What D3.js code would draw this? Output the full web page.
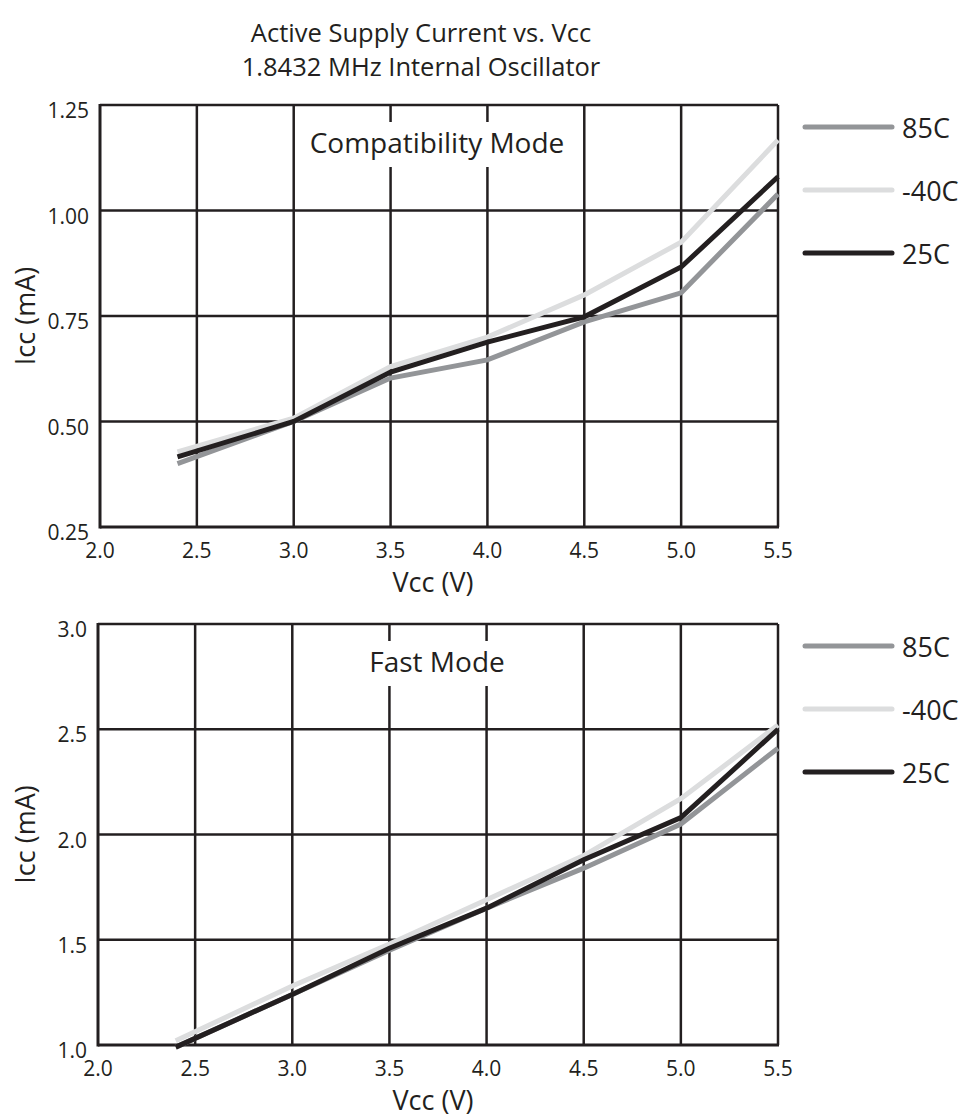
<!DOCTYPE html>
<html>
<head>
<meta charset="utf-8">
<script src="https://cdn.jsdelivr.net/npm/d3@7"></script>
<style>
  html, body { margin: 0; padding: 0; background: #fff; }
  svg text { font-family: "Open Sans", "Noto Sans", sans-serif; fill: #231f20; }
</style>
</head>
<body>
<svg id="chart" width="964" height="1117"></svg>
<script>
// ---- Data ----
const vcc = [2.4, 3.0, 3.5, 4.0, 4.5, 5.0, 5.5];
const seriesNames = ["85C", "-40C", "25C"];
const seriesColors = ["#939598", "#dcddde", "#231f20"];

// Compatibility Mode (mA)
const compat85 = [0.40, 0.50, 0.603, 0.646, 0.736, 0.805, 1.039];
const compatM40 = [0.428, 0.508, 0.63, 0.70, 0.80, 0.925, 1.167];
const compat25 = [0.416, 0.50, 0.617, 0.688, 0.748, 0.866, 1.08];

// Fast Mode (mA)
const fast85 = [0.99, 1.24, 1.45, 1.65, 1.84, 2.05, 2.41];
const fastM40 = [1.02, 1.28, 1.48, 1.69, 1.90, 2.17, 2.52];
const fast25 = [0.99, 1.24, 1.46, 1.65, 1.88, 2.08, 2.50];

const xTicks = [2.0, 2.5, 3.0, 3.5, 4.0, 4.5, 5.0, 5.5];
const compatYTicks = [0.25, 0.50, 0.75, 1.00, 1.25];
const fastYTicks = [1.0, 1.5, 2.0, 2.5, 3.0];

const titleLines = ["Active Supply Current vs. Vcc", "1.8432 MHz Internal Oscillator"];

// ---- Drawing ----
const svg = d3.select("#chart");
const ink = "#231f20";

svg.append("g").selectAll("text").data(titleLines).join("text")
  .attr("x", 421).attr("y", (d, i) => 42 + i * 34)
  .attr("text-anchor", "middle").attr("font-size", 25.5).text(d => d);

function panel(cfg) {
  const x = d3.scaleLinear().domain([2.0, 5.5]).range([cfg.left, 778]);
  const y = d3.scaleLinear().domain(cfg.yDomain).range([cfg.bottom, cfg.top]);
  const g = svg.append("g");

  // vertical grid
  g.append("g").selectAll("line").data(xTicks.slice(1)).join("line")
    .attr("x1", d => x(d)).attr("x2", d => x(d))
    .attr("y1", cfg.top).attr("y2", cfg.bottom)
    .attr("stroke", ink).attr("stroke-width", 2.5);
  // horizontal grid
  g.append("g").selectAll("line").data(cfg.yTicks.slice(1)).join("line")
    .attr("x1", cfg.left).attr("x2", 778)
    .attr("y1", d => y(d)).attr("y2", d => y(d))
    .attr("stroke", ink).attr("stroke-width", 2.5);

  // annotation label with white backing
  const lab = g.append("text").attr("x", 437).attr("y", cfg.top + 48)
    .attr("text-anchor", "middle").attr("font-size", 28).text(cfg.label);
  const bb = lab.node().getBBox();
  g.insert("rect", "text").attr("x", bb.x - 2).attr("y", cfg.top + 17)
    .attr("width", bb.width + 4).attr("height", 45).attr("fill", "#fff");

  // axes (left + bottom thicker)
  g.append("line").attr("x1", cfg.left).attr("x2", cfg.left)
    .attr("y1", cfg.top - 1).attr("y2", cfg.bottom + 1.5).attr("stroke", ink).attr("stroke-width", 3);
  g.append("line").attr("x1", cfg.left).attr("x2", 779)
    .attr("y1", cfg.bottom).attr("y2", cfg.bottom).attr("stroke", ink).attr("stroke-width", 3);

  // tick labels
  g.append("g").selectAll("text").data(cfg.yTicks).join("text")
    .attr("x", cfg.left - 11).attr("y", d => y(d) + 13)
    .attr("text-anchor", "end").attr("font-size", 21).text(d => d3.format(cfg.yFmt)(d));
  g.append("g").selectAll("text").data(xTicks).join("text")
    .attr("x", d => x(d)).attr("y", cfg.bottom + 31)
    .attr("text-anchor", "middle").attr("font-size", 21).text(d => d3.format(".1f")(d));

  // axis titles
  g.append("text").attr("x", 433).attr("y", cfg.bottom + 65)
    .attr("text-anchor", "middle").attr("font-size", 27).text("Vcc (V)");
  g.append("text").attr("transform", `translate(35,${(cfg.top + cfg.bottom) / 2}) rotate(-90)`)
    .attr("text-anchor", "middle").attr("font-size", 27).text("Icc (mA)");

  // series lines
  const line = d3.line().x((d, i) => x(vcc[i])).y(d => y(d));
  g.append("g").selectAll("path").data(cfg.series).join("path")
    .attr("d", d => line(d)).attr("fill", "none")
    .attr("stroke", (d, i) => seriesColors[i]).attr("stroke-width", 5)
    .attr("stroke-linejoin", "miter");

  // legend
  const lg = g.append("g").selectAll("g").data(seriesNames).join("g")
    .attr("transform", (d, i) => `translate(0,${cfg.top + 22 + i * 63})`);
  lg.append("line").attr("x1", 805).attr("x2", 892).attr("y1", 0).attr("y2", 0)
    .attr("stroke", (d, i) => seriesColors[i]).attr("stroke-width", 5).attr("stroke-linecap", "round");
  lg.append("text").attr("x", 902).attr("y", 11).attr("font-size", 27).text(d => d);
}

panel({
  top: 105, bottom: 527, left: 100,
  yDomain: [0.25, 1.25], yTicks: compatYTicks, yFmt: ".2f",
  label: "Compatibility Mode",
  series: [compat85, compatM40, compat25]
});
panel({
  top: 624, bottom: 1045, left: 98,
  yDomain: [1.0, 3.0], yTicks: fastYTicks, yFmt: ".1f",
  label: "Fast Mode",
  series: [fast85, fastM40, fast25]
});
</script>
</body>
</html>
